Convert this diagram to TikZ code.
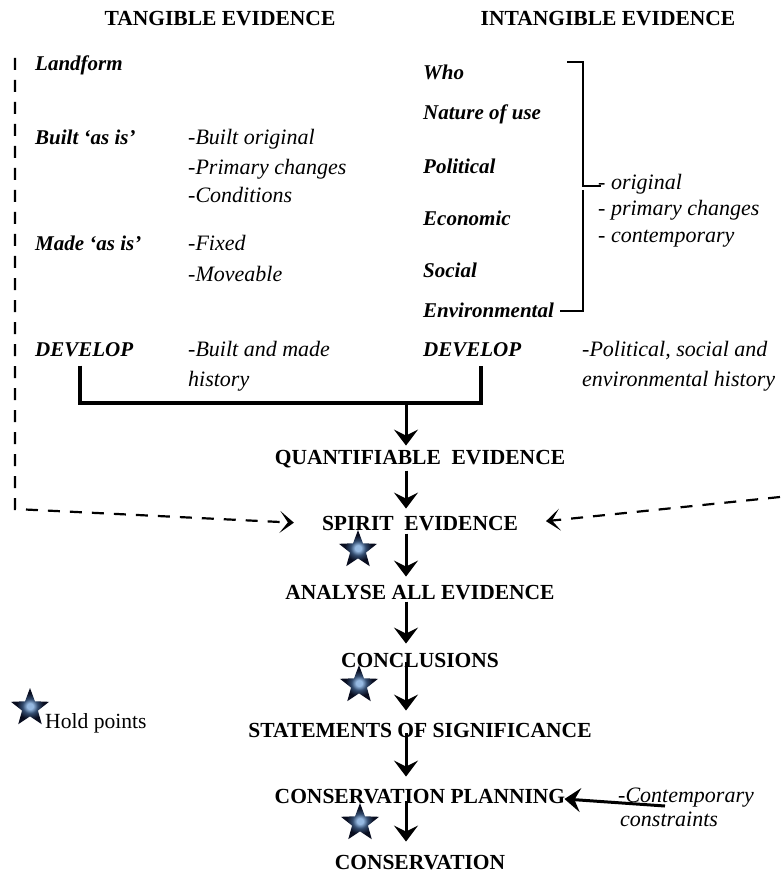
\documentclass[tikz,border=0pt]{standalone}
\usepackage{fontspec}
\setmainfont{Liberation Serif}
\usetikzlibrary{arrows.meta,shapes.geometric}
\definecolor{starlight}{RGB}{150,185,225}
\definecolor{starmid}{RGB}{50,75,110}
\definecolor{stardark}{RGB}{8,12,30}
\pgfdeclareradialshading{starshade}{\pgfpoint{0bp}{0bp}}{color(0bp)=(starlight); color(4bp)=(starlight); color(10bp)=(starmid); color(18bp)=(stardark); color(50bp)=(stardark)}
\begin{document}
\begin{tikzpicture}[x=1pt,y=-1pt,
  txt/.style={inner sep=0pt,font=\fontsize{21.6}{25}\selectfont},
  head/.style={inner sep=0pt,font=\fontsize{21.5}{25}\selectfont\bfseries,anchor=base},
  lab/.style={inner sep=0pt,font=\fontsize{21}{25}\selectfont\bfseries\itshape,anchor=base west},
  sub/.style={inner sep=0pt,font=\fontsize{22}{25}\selectfont\itshape,anchor=base west},
  flow/.style={line width=3pt,-{Stealth[length=16pt,width=24pt,inset=6pt]}},
  bar/.style={line width=3.2pt},
  dashline/.style={line width=2.2pt,dash pattern=on 12pt off 10pt,-{Stealth[length=14pt,width=22pt,inset=8pt]}},
  brk/.style={line width=1.2pt},
  holdstar/.style={star,star points=5,star point ratio=2.4,minimum size=40pt,inner sep=0pt,
    draw=none,shading=starshade}
]
\useasboundingbox (0,0) rectangle (780,874);
\fill[white] (0,0) rectangle (780,874);

% headings
\node[head] (tan) at (220,26) {TANGIBLE EVIDENCE};
\node[head] (intan) at (608,26) {INTANGIBLE EVIDENCE};

% tangible column
\node[lab] (land) at (35,71) {Landform};
\node[lab] (built) at (35,145) {Built ‘as is’};
\node[sub] (b1) at (188,145) {-Built original};
\node[sub] (b2) at (188,175) {-Primary changes};
\node[sub] (b3) at (188,203) {-Conditions};
\node[lab] (made) at (35,251) {Made ‘as is’};
\node[sub] (m1) at (188,251) {-Fixed};
\node[sub] (m2) at (188,281) {-Moveable};
\node[lab] (devL) at (35,356) {DEVELOP};
\node[sub] (d1) at (188,356) {-Built and made};
\node[sub] (d2) at (188,386) {history};

% intangible column
\node[lab] (who) at (423,80) {Who};
\node[lab] (nat) at (423,120) {Nature of use};
\node[lab] (pol) at (423,174) {Political};
\node[lab] (eco) at (423,226) {Economic};
\node[lab] (soc) at (423,277) {Social};
\node[lab] (env) at (423,317) {Environmental};
\node[sub] (o1) at (598,190) {- original};
\node[sub] (o2) at (598,216) {- primary changes};
\node[sub] (o3) at (598,243) {- contemporary};
\node[lab] (devR) at (423,356) {DEVELOP};
\node[sub] (p1) at (582,356) {-Political, social and};
\node[sub] (p2) at (582,386) {environmental history};

% bracket
\coordinate (bt) at (567,62);
\coordinate (bm) at (583,188);
\coordinate (bb) at (560,311);
\draw[brk] (bt) -| ([yshift=2pt]bm) -- ++(18,0);
\draw[brk] ([yshift=-2pt]bm) |- (bb);

% flow
\node[head] (quant) at (420,464) {QUANTIFIABLE\ \ EVIDENCE};
\node[head] (spirit) at (420,530) {SPIRIT\ \ EVIDENCE};
\node[head] (anal) at (420,599) {ANALYSE ALL EVIDENCE};
\node[head] (conc) at (420,667) {CONCLUSIONS};
\node[head] (stat) at (420,737) {STATEMENTS OF SIGNIFICANCE};
\node[head] (plan) at (420,803) {CONSERVATION PLANNING};
\node[head] (cons) at (420,869) {CONSERVATION};

\node[sub] (c1) at (618,802) {-Contemporary};
\node[sub] (c2) at (620,826) {constraints};

% stars
\node[holdstar] (s1) at (358,550) {};
\node[holdstar] (s2) at (359,685) {};
\node[holdstar] (s3) at (360,823) {};
\node[holdstar] (hs) at (30,708) {};
\node[txt,anchor=base west] (hold) at (45,728) {Hold points};

% junction bar
\coordinate (ax) at (406,0);
\coordinate (jl) at (80,403);
\coordinate (jr) at (481,403);
\coordinate (jm) at (406,403);
\draw[bar,shorten <=9pt,shorten >=9pt] (devL.south -| jl) -- (jl) -- (jr) -- (devR.south -| jr);

% arrows
\draw[flow,shorten >=4pt] (jm) -- (quant.north -| ax);
\draw[flow,shorten <=3pt,shorten >=7pt] (quant.south -| ax) -- (spirit.north -| ax);
\draw[flow,shorten <=3pt,shorten >=8pt] (spirit.south -| ax) -- (anal.north -| ax);
\draw[flow,shorten <=2pt,shorten >=9pt] (anal.south -| ax) -- (conc.north -| ax);
\draw[flow,shorten <=-5pt,shorten >=12pt] (conc.south -| ax) -- (stat.north -| ax);
\draw[flow,shorten <=-4pt,shorten >=12pt] (stat.south -| ax) -- (plan.north -| ax);
\draw[flow,shorten <=-3pt,shorten >=13pt] (plan.south -| ax) -- (cons.north -| ax);

\draw[flow,shorten >=-1pt] ([xshift=47pt,yshift=-4pt]c1.base west) -- ([yshift=-3pt]plan.east);

% dashed feedback arrows
\coordinate (dl0) at (15,58);
\coordinate (dl1) at (15,509);
\coordinate (dr0) at (780,497);
\draw[dashline,shorten >=28pt] (dl0) -- (dl1) -- ([yshift=-1pt]spirit.west);
\draw[dashline,shorten >=28pt] (dr0) -- ([yshift=-1pt]spirit.east);
\end{tikzpicture}
\end{document}
